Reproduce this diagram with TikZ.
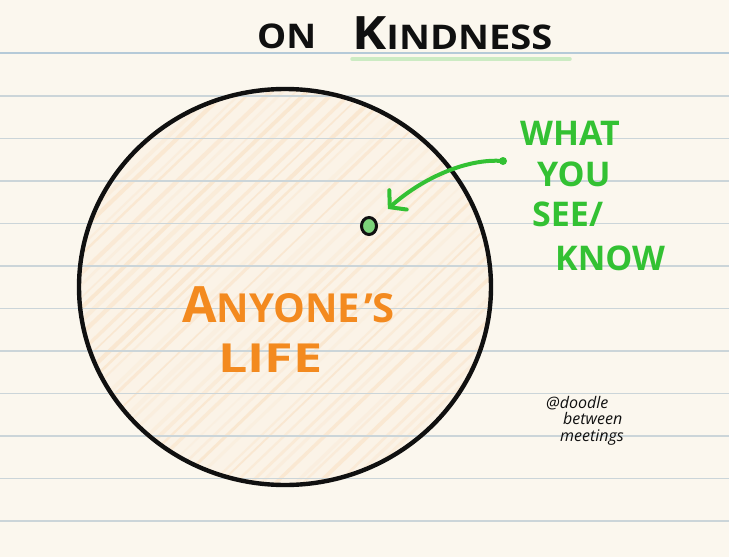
\documentclass[tikz,border=0pt]{standalone}
\usepackage{fontspec}
\setmainfont{Open Sans}
\usetikzlibrary{arrows.meta,shapes.geometric}
\definecolor{paper}{HTML}{FBF7EE}
\definecolor{rulec}{HTML}{CBD5D9}
\definecolor{toprulec}{HTML}{B5CAD8}
\definecolor{hatchfill}{HTML}{FBF3E7}
\definecolor{hatchc}{HTML}{F9DDBD}
\definecolor{ink}{HTML}{101010}
\definecolor{greenink}{HTML}{33C133}
\definecolor{orangeink}{HTML}{F38A1F}
\definecolor{dotfill}{HTML}{7CD47A}
\definecolor{hilite}{HTML}{CCEBC3}
\tikzset{
  rule/.style={rulec, line width=1.6pt},
  title/.style={ink, anchor=base west, inner sep=0pt},
  greentxt/.style={greenink, anchor=base west, inner sep=0pt, font=\fontsize{34}{34}\selectfont\bfseries},
  orangetxt/.style={orangeink, anchor=base west, inner sep=0pt},
  sig/.style={ink, anchor=base west, inner sep=0pt, font=\fontsize{16}{16}\selectfont\rmfamily\itshape},
}
\begin{document}
\begin{tikzpicture}[x=1pt,y=-1pt]
\useasboundingbox (0,0) rectangle (729,557);
\fill[paper] (0,0) rectangle (729,557);
% circle hatch
\begin{scope}
  \clip (285,287) ellipse[x radius=206, y radius=198];
  \fill[hatchfill] (60,80) rectangle (510,500);
  \pgfmathsetseed{7}
  \foreach \i in {0,...,65} {
    \pgfmathsetmacro{\xo}{-380 + \i*14 + rnd*8}
    \pgfmathsetmacro{\lw}{1.5 + rnd*3}
    \pgfmathsetmacro{\op}{0.15 + rnd*0.4}
    \draw[hatchc, line width=\lw pt, opacity=\op, line cap=round] (\xo,520) -- ++(480,-460);
  }
\end{scope}
% ruled lines
\foreach \yy in {96,138.5,...,530} \draw[rule] (0,\yy) -- (729,\yy);
\draw[toprulec, line width=1.8pt] (0,53) -- (729,53);
% highlight under title
\draw[hilite, line width=3.5pt, line cap=round] (352,59) -- (570,59);
% title
\node[title, font=\fontsize{34}{34}\selectfont\bfseries, xscale=1.08] (ton) at (257,48) {ON};
\node[title, xscale=1.12] (tkind) at (352,49) {\bfseries{\fontsize{46}{46}\selectfont K}{\fontsize{34}{34}\selectfont INDNESS}};
\node[ellipse, draw=ink, line width=4.4pt, minimum width=412pt, minimum height=396pt, inner sep=0pt] (life) at (285,287) {};
% orange text
\node[orangetxt] (anyone) at (182,322) {\bfseries{\fontsize{50}{50}\selectfont A}{\fontsize{40}{40}\selectfont NYONE\hspace{4pt}'S}};
\node[orangetxt, font=\fontsize{40}{40}\selectfont\bfseries, xscale=1.3] (lifetxt) at (218,372) {LIFE};
% green label
\node[greentxt] (w1) at (520,145) {WHAT};
\node[greentxt] (w2) at (537,186) {YOU};
\node[greentxt] (w3) at (532,226) {SEE/};
\node[greentxt] (w4) at (555,270) {KNOW};
% dot
\node[ellipse, minimum width=15pt, minimum height=17pt, inner sep=0pt, fill=dotfill, draw=ink, line width=3pt] (seen) at (369,226) {};
\coordinate (tail) at (503,161);
\fill[greenink] (tail) circle[radius=4];
\draw[greenink, line width=4pt, line cap=round, -{Straight Barb[length=11pt,width=26pt,line cap=round]}, shorten >=16pt]
  (tail) .. controls (465,158) and (420,180) .. (seen);
% signature
\node[sig] (s1) at (546,408) {@doodle};
\node[sig] (s2) at (563,424) {between};
\node[sig] (s3) at (560,441) {meetings};
\end{tikzpicture}
\end{document}
